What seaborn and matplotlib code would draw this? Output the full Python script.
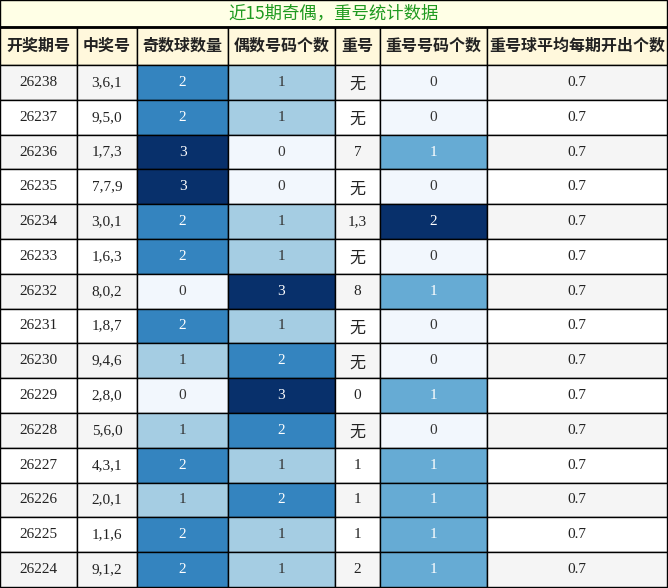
import matplotlib
matplotlib.use("Agg")
import matplotlib.pyplot as plt
import seaborn as sns
from matplotlib.patches import Rectangle

sns.set_theme(style="white")
plt.rcParams['font.family'] = ['Noto Sans CJK SC', 'DejaVu Sans']

title = "近15期奇偶，重号统计数据"
headers = ["开奖期号", "中奖号", "奇数球数量", "偶数号码个数", "重号", "重号号码个数", "重号球平均每期开出个数"]
periods = ["26238","26237","26236","26235","26234","26233","26232","26231","26230","26229","26228","26227","26226","26225","26224"]
numbers = ["3,6,1","9,5,0","1,7,3","7,7,9","3,0,1","1,6,3","8,0,2","1,8,7","9,4,6","2,8,0","5,6,0","4,3,1","2,0,1","1,1,6","9,1,2"]
odd = [2,2,3,3,2,2,0,2,1,0,1,2,1,2,2]
even = [1,1,0,0,1,1,3,1,2,3,2,1,2,1,1]
repeat = ["无","无","7","无","1,3","无","8","无","无","0","无","1","1","1","2"]
repcnt = [0,0,1,0,2,0,1,0,0,1,0,1,1,1,1]
avg = ["0.7"]*15

W, H = 668, 588
fig = plt.figure(figsize=(W/100, H/100), dpi=100)
ax = fig.add_axes([0, 0, 1, 1])
ax.set_xlim(0, W); ax.set_ylim(H, 0); ax.axis("off")

cols = [0, 77, 137, 228, 335, 380, 487, 667]
top_t, top_h, top_b = 0, 27, 65
rh = (H - 1 - top_b) / 15
cmap = plt.get_cmap("Blues")
serif = ["Liberation Serif", "Noto Sans CJK SC"]

ax.add_patch(Rectangle((0, top_t), W-1, top_h, fc="#ffffe6", ec="black", lw=1))
ax.text(W/2, top_h/2, title, ha="center", va="center", color="#1f9a1f", fontsize=12.5,
        family=["Noto Sans CJK SC", "Liberation Serif"])
for i, h in enumerate(headers):
    x0, x1 = cols[i], cols[i+1]
    ax.add_patch(Rectangle((x0, top_h), x1-x0, top_b-top_h, fc="#fff8dc", ec="black", lw=1))
    ax.text((x0+x1)/2, (top_h+top_b)/2, h, ha="center", va="center", fontsize=11.5, fontweight="bold", color="#222")
ax.plot([0, W], [top_h, top_h], color="black", lw=2)

for r in range(15):
    y0 = top_b + r*rh
    base = "#f5f5f5" if r % 2 == 0 else "white"
    vals = [periods[r], numbers[r], odd[r], even[r], repeat[r], repcnt[r], avg[r]]
    for c, v in enumerate(vals):
        x0, x1 = cols[c], cols[c+1]
        fc, tc = base, "#222"
        if c in (2, 3):
            fc = cmap(0.03 + 0.97*v/3)
            tc = "white" if v >= 2 else "#333"
        elif c == 5:
            fc = cmap(0.03 + 0.97*v/2)
            tc = "white" if v >= 1 else "#333"
        ax.add_patch(Rectangle((x0, y0), x1-x0, rh, fc=fc, ec="black", lw=1))
        cjk = isinstance(v, str) and v == "无"
        ax.text((x0+x1)/2, y0+rh/2 + (2 if cjk else 0), str(v), ha="center", va="center",
                color=tc, fontsize=11.5 if cjk else 11, family=["Noto Sans CJK SC"] if cjk else serif)

fig.savefig("out.png", dpi=100)
